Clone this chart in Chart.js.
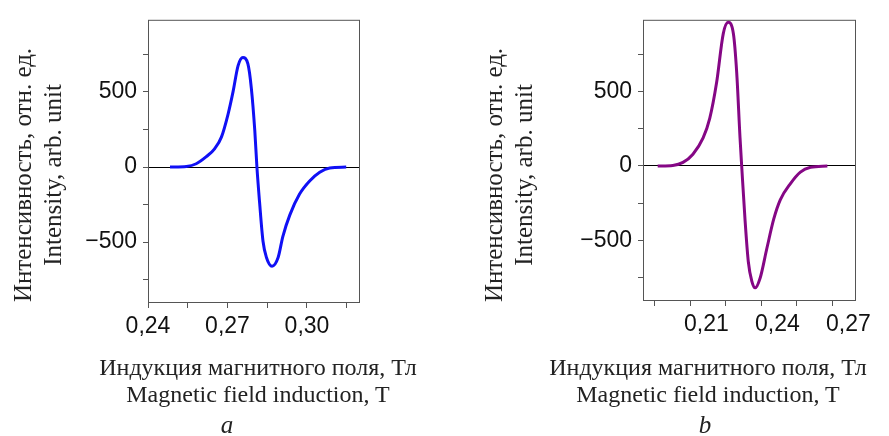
<!DOCTYPE html>
<html>
<head>
<meta charset="utf-8">
<script src="https://cdn.jsdelivr.net/npm/chart.js@4.4.1/dist/chart.umd.min.js"></script>
<style>
  body { margin: 0; background: #fff; }
  #wrap { position: relative; width: 889px; height: 436px; overflow: hidden; }
  canvas { position: absolute; top: 0; }
  .ytitle, .xtitle, .letter {
    position: absolute;
    font-family: 'Liberation Serif', 'DejaVu Serif', serif;
    color: #222;
    text-align: center;
    white-space: nowrap;
  }
  .ytitle { width: 300px; height: 60px; font-size: 25px; line-height: 30px; transform: rotate(-90deg); }
  .xtitle { width: 400px; font-size: 24px; line-height: 27px; }
  .letter { width: 40px; font-size: 25px; font-style: italic; line-height: 30px; }
</style>
</head>
<body>
<div id="wrap">
  <canvas id="chartA" width="444" height="436" style="left:0"></canvas>
  <canvas id="chartB" width="445" height="436" style="left:444px"></canvas>

  <div class="ytitle" style="left:-112px; top:145px">Интенсивность, отн. ед.<br>Intensity, arb. unit</div>
  <div class="ytitle" style="left:359px; top:145px">Интенсивность, отн. ед.<br>Intensity, arb. unit</div>

  <div class="xtitle" style="left:58px; top:354px">Индукция магнитного поля, Тл<br>Magnetic field induction, T</div>
  <div class="xtitle" style="left:508px; top:354px">Индукция магнитного поля, Тл<br>Magnetic field induction, T</div>

  <div class="letter" style="left:207px; top:410px">a</div>
  <div class="letter" style="left:685px; top:410px">b</div>
</div>

<script>
// panel a
const fieldA = [0.2483, 0.2545, 0.2582, 0.2620, 0.2652, 0.2677, 0.2702, 0.2721, 0.2740, 0.2758,
  0.2777, 0.2790, 0.2803, 0.2811, 0.2821, 0.2834, 0.2847, 0.2868, 0.2891, 0.2909,
  0.2935, 0.2972, 0.3010, 0.3048, 0.3086, 0.3148];
const intensityA = [0, 4, 22, 69, 123, 199, 351, 502, 675, 729,
  686, 524, 242, 0, -234, -494, -602, -660, -602, -461,
  -320, -180, -93, -35, -6, 0];

// panel b
const fieldB = [0.1962, 0.2026, 0.2069, 0.2111, 0.2154, 0.2182, 0.2211, 0.2239, 0.2260, 0.2282,
  0.2296, 0.2310, 0.2317, 0.2331, 0.2345, 0.2360, 0.2374, 0.2395, 0.2423, 0.2452,
  0.2480, 0.2523, 0.2565, 0.2608, 0.2679];
const intensityB = [0, 4, 24, 79, 188, 319, 559, 886, 963, 886,
  624, 188, 0, -358, -642, -773, -817, -751, -555, -358,
  -227, -118, -41, -9, 0];

const yTicks = [-750, -500, -250, 0, 250, 500, 750];
const yLabeled = [-500, 0, 500];
const xTicksA = [0.24, 0.255, 0.27, 0.285, 0.30, 0.315];
const xLabeledA = [0.24, 0.27, 0.30];
const xTicksB = [0.195, 0.21, 0.225, 0.24, 0.255, 0.27];
const xLabeledB = [0.21, 0.24, 0.27];

const near = (list, v) => list.some(t => Math.abs(t - v) < 1e-6);

const frame = {
  id: 'frame',
  afterDraw(chart) {
    const { ctx, chartArea: a } = chart;
    ctx.save();
    ctx.strokeStyle = '#555';
    ctx.lineWidth = 1;
    ctx.strokeRect(a.left + 0.5, a.top + 0.5, a.width - 1, a.height - 1);
    ctx.restore();
  }
};

function makeChart(id, xs, ys, color, cfg) {
  const ctx = document.getElementById(id).getContext('2d');
  return new Chart(ctx, {
    type: 'line',
    data: {
      datasets: [{
        data: xs.map((x, i) => ({ x: x, y: ys[i] })),
        borderColor: color,
        borderWidth: 3,
        pointRadius: 0,
        cubicInterpolationMode: 'monotone',
        fill: false
      }]
    },
    options: {
      responsive: false,
      animation: false,
      devicePixelRatio: 1,
      layout: { padding: { left: 0, top: 13, right: cfg.rightPad, bottom: cfg.bottomPad } },
      plugins: { legend: { display: false }, tooltip: { enabled: false } },
      scales: {
        x: {
          type: 'linear',
          min: cfg.xMin,
          max: cfg.xMax,
          afterBuildTicks: (s) => { s.ticks = cfg.xTicks.map(v => ({ value: v })); },
          afterFit: (s) => { s.height = 40; },
          border: { display: false },
          grid: { drawOnChartArea: false, tickLength: 5, tickColor: '#555' },
          ticks: {
            autoSkip: false,
            maxRotation: 0,
            padding: 5,
            labelOffset: cfg.labelShift,
            color: '#111',
            font: { family: 'Liberation Sans', size: 23 },
            callback: (v) => near(cfg.xLabeled, v) ? v.toFixed(2).replace('.', ',') : ''
          }
        },
        y: {
          type: 'linear',
          min: -905,
          max: 980,
          afterBuildTicks: (s) => { s.ticks = yTicks.map(v => ({ value: v })); },
          afterFit: (s) => { s.width = cfg.leftWidth; },
          border: { display: false },
          grid: {
            color: (c) => c.tick && c.tick.value === 0 ? '#000' : 'rgba(0,0,0,0)',
            tickColor: '#555',
            tickLength: 5
          },
          ticks: {
            autoSkip: false,
            padding: 6,
            color: '#111',
            font: { family: 'Liberation Sans', size: 23 },
            callback: (v) => near(yLabeled, v) ? (v < 0 ? '\u2212' + Math.abs(v) : String(v)) : ''
          }
        }
      }
    },
    plugins: [frame]
  });
}

makeChart('chartA', fieldA, intensityA, '#1010f5', {
  xMin: 0.24, xMax: 0.32, xTicks: xTicksA, xLabeled: xLabeledA,
  leftWidth: 148, rightPad: 84, bottomPad: 93, labelShift: 0
});

makeChart('chartB', fieldB, intensityB, '#850785', {
  xMin: 0.19, xMax: 0.28, xTicks: xTicksB, xLabeled: xLabeledB,
  leftWidth: 199, rightPad: 33, bottomPad: 95, labelShift: 16
});
</script>
</body>
</html>
